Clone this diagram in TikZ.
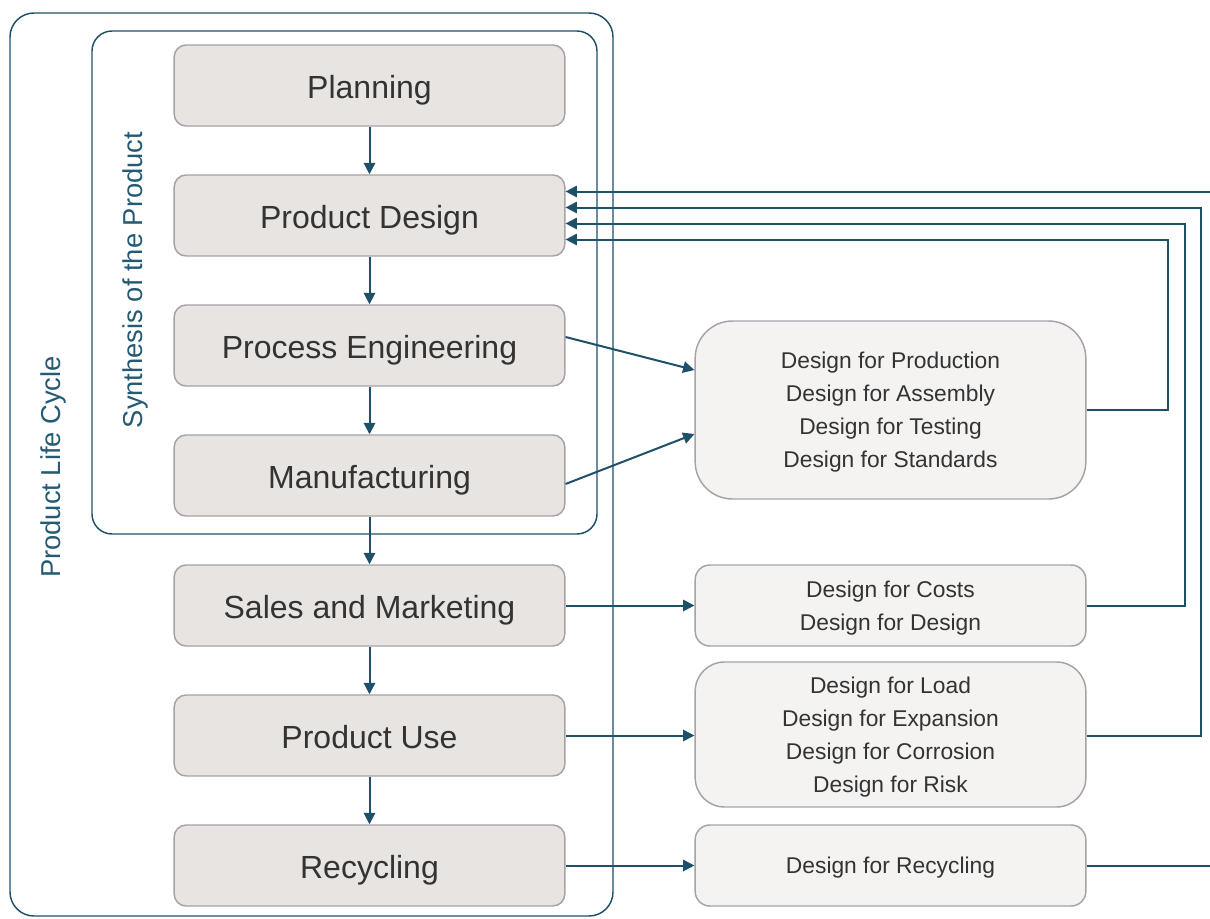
\documentclass[tikz,border=0pt]{standalone}
\usepackage{fontspec}
\setmainfont{Liberation Sans}
\usetikzlibrary{arrows.meta,calc}
\definecolor{lineblue}{HTML}{1F5069}
\definecolor{labelblue}{HTML}{255A74}
\definecolor{mainfill}{HTML}{E7E4E1}
\definecolor{sidefill}{HTML}{F4F3F2}
\definecolor{boxborder}{HTML}{A6A2A8}
\definecolor{txt}{HTML}{333333}
\tikzset{
  mainbox/.style={draw=boxborder, line width=1.1pt, fill=mainfill, rounded corners=9pt,
    minimum width=293pt, minimum height=60.75pt, text=txt,
    text height=18.8pt, text depth=0pt,
    font=\fontsize{24}{28}\selectfont},
  sidebox/.style={draw=boxborder, line width=1.1pt, fill=sidefill,
    minimum width=293pt, text=txt, align=center, text depth=0pt,
    font=\fontsize{17.1}{24.75}\selectfont},
  frame/.style={draw=lineblue, line width=1.1pt},
  conn/.style={draw=lineblue, line width=1.5pt},
  arr/.style={conn, -{Triangle[length=8.5pt,width=8.5pt]}},
  lbl/.style={text=labelblue, rotate=90, font=\fontsize{20.5}{24}\selectfont}
}
\begin{document}
\begin{tikzpicture}[x=0.75pt,y=-0.75pt]
\useasboundingbox (0,0) rectangle (1210,918);
\clip (0,0) rectangle (1210,918);
% frames
\draw[frame, rounded corners=18pt] (10,13) rectangle (613,916);
\draw[frame, rounded corners=15pt] (92,31) rectangle (597,534);
\node[lbl] (plc) at (53,467) {Product Life Cycle};
\node[lbl] (syn) at (135,280) {Synthesis of the Product};
% main boxes
\node[mainbox] (plan) at (369.5,85.5) {Planning};
\node[mainbox] (pd)   at (369.5,215.5) {Product Design};
\node[mainbox] (pe)   at (369.5,345.5) {Process Engineering};
\node[mainbox] (mf)   at (369.5,475.5) {Manufacturing};
\node[mainbox] (sm)   at (369.5,605.5) {Sales and Marketing};
\node[mainbox] (pu)   at (369.5,735.5) {Product Use};
\node[mainbox] (rc)   at (369.5,865.5) {Recycling};
% side boxes
\node[sidebox, rounded corners=28pt, minimum height=133.5pt] (da) at (890.5,410)
  {Design for Production\\Design for Assembly\\Design for Testing\\Design for Standards};
\node[sidebox, rounded corners=11pt, minimum height=60.75pt] (db) at (890.5,605.5)
  {Design for Costs\\Design for Design};
\node[sidebox, rounded corners=22pt, minimum height=108.75pt] (dc) at (890.5,734.5)
  {Design for Load\\Design for Expansion\\Design for Corrosion\\Design for Risk};
\node[sidebox, rounded corners=11pt, minimum height=60.75pt] (dd) at (890.5,865.5)
  {Design for Recycling};
% vertical flow
\draw[arr] (plan) -- (pd);
\draw[arr] (pd) -- (pe);
\draw[arr] (pe) -- (mf);
\draw[arr] (mf) -- (sm);
\draw[arr] (sm) -- (pu);
\draw[arr] (pu) -- (rc);
% to side boxes
\draw[arr] ($(pe.east)+(0,-8.5)$) -- ($(da.west)+(0,-40)$);
\draw[arr] ($(mf.east)+(0,8.5)$) -- ($(da.west)+(0,24)$);
\draw[arr] (sm) -- (db);
\draw[arr] (pu.east) -- (pu.east -| dc.west);
\draw[arr] (rc) -- (dd);
% feedback
\coordinate (edge) at (1220,0);
\draw[arr] (da.east) -- ++(81,0) |- ($(pd.east)+(0,24)$);
\draw[arr] (db.east) -- ++(98,0) |- ($(pd.east)+(0,8)$);
\draw[arr] (pu.east -| dc.east) -- ++(114,0) |- ($(pd.east)+(0,-8)$);
\draw[arr] (dd.east) -- (dd.east -| edge) |- ($(pd.east)+(0,-24)$);
\end{tikzpicture}
\end{document}
